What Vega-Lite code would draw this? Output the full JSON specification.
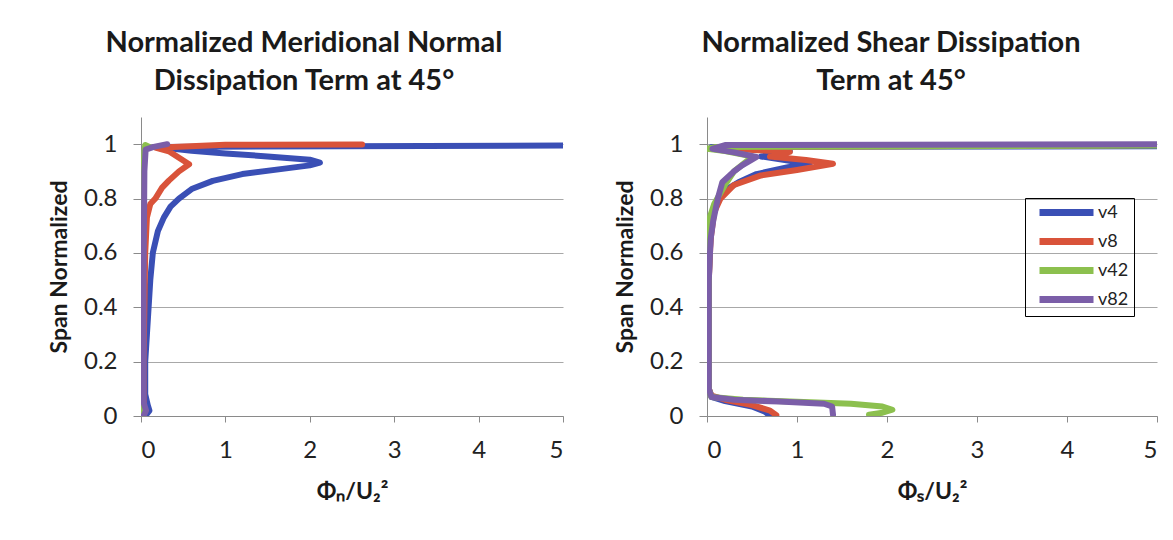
{
  "$schema": "https://vega.github.io/schema/vega-lite/v6.json",
  "background": "white",
  "padding": {"left": 48, "top": 29, "right": 0, "bottom": 0},
  "config": {
    "view": {"stroke": null},
    "font": "Lato",
    "title": {"font": "Lato", "fontSize": 29, "fontWeight": "bold", "color": "#1a1a1a", "lineHeight": 38, "offset": 21},
    "axis": {
      "labelFont": "Lato", "labelFontSize": 24, "labelColor": "#222",
      "titleFont": "Lato", "titleFontSize": 23, "titleFontWeight": "bold", "titleColor": "#1a1a1a",
      "domainColor": "#8a8a8a", "tickColor": "#8a8a8a", "gridColor": "#a8a8a8", "gridWidth": 1
    }
  },
  "datasets": {
    "normal": [
      {"s":"v4","i":0,"x":0.05,"y":0.0},{"s":"v4","i":1,"x":0.1,"y":0.02},{"s":"v4","i":2,"x":0.08,"y":0.04},{"s":"v4","i":3,"x":0.05,"y":0.08},{"s":"v4","i":4,"x":0.05,"y":0.2},{"s":"v4","i":5,"x":0.07,"y":0.3},{"s":"v4","i":6,"x":0.09,"y":0.4},{"s":"v4","i":7,"x":0.11,"y":0.5},{"s":"v4","i":8,"x":0.14,"y":0.6},{"s":"v4","i":9,"x":0.2,"y":0.68},{"s":"v4","i":10,"x":0.27,"y":0.73},{"s":"v4","i":11,"x":0.35,"y":0.77},{"s":"v4","i":12,"x":0.45,"y":0.8},{"s":"v4","i":13,"x":0.6,"y":0.835},{"s":"v4","i":14,"x":0.85,"y":0.865},{"s":"v4","i":15,"x":1.2,"y":0.89},{"s":"v4","i":16,"x":1.7,"y":0.91},{"s":"v4","i":17,"x":2.0,"y":0.922},{"s":"v4","i":18,"x":2.12,"y":0.932},{"s":"v4","i":19,"x":2.0,"y":0.943},{"s":"v4","i":20,"x":1.5,"y":0.955},{"s":"v4","i":21,"x":1.0,"y":0.966},{"s":"v4","i":22,"x":0.6,"y":0.976},{"s":"v4","i":23,"x":0.2,"y":0.99},{"s":"v4","i":24,"x":6,"y":0.996},
      {"s":"v8","i":0,"x":0.03,"y":0.0},{"s":"v8","i":1,"x":0.03,"y":0.2},{"s":"v8","i":2,"x":0.04,"y":0.4},{"s":"v8","i":3,"x":0.05,"y":0.6},{"s":"v8","i":4,"x":0.07,"y":0.73},{"s":"v8","i":5,"x":0.11,"y":0.78},{"s":"v8","i":6,"x":0.17,"y":0.8},{"s":"v8","i":7,"x":0.25,"y":0.84},{"s":"v8","i":8,"x":0.33,"y":0.866},{"s":"v8","i":9,"x":0.45,"y":0.9},{"s":"v8","i":10,"x":0.57,"y":0.926},{"s":"v8","i":11,"x":0.45,"y":0.95},{"s":"v8","i":12,"x":0.33,"y":0.974},{"s":"v8","i":13,"x":0.17,"y":0.987},{"s":"v8","i":14,"x":1.0,"y":0.998},{"s":"v8","i":15,"x":2.62,"y":0.999},
      {"s":"v42","i":0,"x":0.02,"y":0.0},{"s":"v42","i":1,"x":0.02,"y":0.5},{"s":"v42","i":2,"x":0.03,"y":0.9},{"s":"v42","i":3,"x":0.04,"y":0.97},{"s":"v42","i":4,"x":0.05,"y":0.997},{"s":"v42","i":5,"x":0.1,"y":0.99},
      {"s":"v82","i":0,"x":0.03,"y":0.0},{"s":"v82","i":1,"x":0.06,"y":0.02},{"s":"v82","i":2,"x":0.03,"y":0.05},{"s":"v82","i":3,"x":0.03,"y":0.5},{"s":"v82","i":4,"x":0.04,"y":0.9},{"s":"v82","i":5,"x":0.055,"y":0.98},{"s":"v82","i":6,"x":0.15,"y":0.99},{"s":"v82","i":7,"x":0.31,"y":1.0}
    ],
    "shear": [
      {"s":"v4","i":0,"x":0.7,"y":0.0},{"s":"v4","i":1,"x":0.65,"y":0.015},{"s":"v4","i":2,"x":0.5,"y":0.035},{"s":"v4","i":3,"x":0.2,"y":0.055},{"s":"v4","i":4,"x":0.05,"y":0.07},{"s":"v4","i":5,"x":0.02,"y":0.1},{"s":"v4","i":6,"x":0.02,"y":0.3},{"s":"v4","i":7,"x":0.02,"y":0.5},{"s":"v4","i":8,"x":0.03,"y":0.6},{"s":"v4","i":9,"x":0.05,"y":0.7},{"s":"v4","i":10,"x":0.1,"y":0.78},{"s":"v4","i":11,"x":0.2,"y":0.83},{"s":"v4","i":12,"x":0.35,"y":0.86},{"s":"v4","i":13,"x":0.55,"y":0.89},{"s":"v4","i":14,"x":0.9,"y":0.915},{"s":"v4","i":15,"x":1.14,"y":0.926},{"s":"v4","i":16,"x":0.9,"y":0.94},{"s":"v4","i":17,"x":0.6,"y":0.955},{"s":"v4","i":18,"x":0.8,"y":0.965},{"s":"v4","i":19,"x":0.92,"y":0.975},{"s":"v4","i":20,"x":0.3,"y":0.985},{"s":"v4","i":21,"x":0.05,"y":0.99},{"s":"v4","i":22,"x":6,"y":0.993},
      {"s":"v8","i":0,"x":0.77,"y":0.003},{"s":"v8","i":1,"x":0.7,"y":0.02},{"s":"v8","i":2,"x":0.5,"y":0.04},{"s":"v8","i":3,"x":0.2,"y":0.06},{"s":"v8","i":4,"x":0.05,"y":0.075},{"s":"v8","i":5,"x":0.02,"y":0.1},{"s":"v8","i":6,"x":0.02,"y":0.5},{"s":"v8","i":7,"x":0.04,"y":0.65},{"s":"v8","i":8,"x":0.08,"y":0.75},{"s":"v8","i":9,"x":0.15,"y":0.8},{"s":"v8","i":10,"x":0.3,"y":0.85},{"s":"v8","i":11,"x":0.6,"y":0.885},{"s":"v8","i":12,"x":1.0,"y":0.905},{"s":"v8","i":13,"x":1.4,"y":0.928},{"s":"v8","i":14,"x":1.1,"y":0.942},{"s":"v8","i":15,"x":0.7,"y":0.955},{"s":"v8","i":16,"x":0.92,"y":0.972},{"s":"v8","i":17,"x":0.4,"y":0.98},{"s":"v8","i":18,"x":0.1,"y":0.99},{"s":"v8","i":19,"x":6,"y":0.998},
      {"s":"v42","i":0,"x":1.8,"y":0.005},{"s":"v42","i":1,"x":1.95,"y":0.012},{"s":"v42","i":2,"x":2.06,"y":0.023},{"s":"v42","i":3,"x":1.95,"y":0.035},{"s":"v42","i":4,"x":1.6,"y":0.045},{"s":"v42","i":5,"x":1.0,"y":0.052},{"s":"v42","i":6,"x":0.4,"y":0.06},{"s":"v42","i":7,"x":0.05,"y":0.07},{"s":"v42","i":8,"x":0.02,"y":0.1},{"s":"v42","i":9,"x":0.02,"y":0.5},{"s":"v42","i":10,"x":0.03,"y":0.65},{"s":"v42","i":11,"x":0.02,"y":0.72},{"s":"v42","i":12,"x":0.08,"y":0.78},{"s":"v42","i":13,"x":0.2,"y":0.85},{"s":"v42","i":14,"x":0.3,"y":0.9},{"s":"v42","i":15,"x":0.45,"y":0.94},{"s":"v42","i":16,"x":0.5,"y":0.955},{"s":"v42","i":17,"x":0.2,"y":0.975},{"s":"v42","i":18,"x":0.0,"y":0.983},{"s":"v42","i":19,"x":0.1,"y":0.99},{"s":"v42","i":20,"x":6,"y":0.996},
      {"s":"v82","i":0,"x":1.4,"y":0.005},{"s":"v82","i":1,"x":1.39,"y":0.035},{"s":"v82","i":2,"x":1.3,"y":0.045},{"s":"v82","i":3,"x":0.8,"y":0.053},{"s":"v82","i":4,"x":0.3,"y":0.06},{"s":"v82","i":5,"x":0.05,"y":0.07},{"s":"v82","i":6,"x":0.02,"y":0.1},{"s":"v82","i":7,"x":0.02,"y":0.5},{"s":"v82","i":8,"x":0.04,"y":0.65},{"s":"v82","i":9,"x":0.07,"y":0.72},{"s":"v82","i":10,"x":0.12,"y":0.8},{"s":"v82","i":11,"x":0.17,"y":0.86},{"s":"v82","i":12,"x":0.3,"y":0.9},{"s":"v82","i":13,"x":0.39,"y":0.922},{"s":"v82","i":14,"x":0.55,"y":0.953},{"s":"v82","i":15,"x":0.3,"y":0.97},{"s":"v82","i":16,"x":0.06,"y":0.983},{"s":"v82","i":17,"x":0.2,"y":0.997},{"s":"v82","i":18,"x":6,"y":1.0}
    ]
  },
  "resolve": {"legend": {"color": "independent"}},
  "spacing": 50,
  "hconcat": [
    {
      "width": 422, "height": 299,
      "title": {"text": ["Normalized Meridional Normal", "Dissipation Term at 45°"], "dx": -48},
      "data": {"name": "normal"},
      "mark": {"type": "line", "strokeWidth": 6, "clip": true, "strokeCap": "round", "strokeJoin": "round"},
      "encoding": {
        "x": {"field": "x", "type": "quantitative", "scale": {"domain": [0, 5], "nice": false},
              "axis": {"values": [0,1,2,3,4,5], "grid": false, "title": "Φₙ/U₂²", "tickSize": 6, "labelPadding": 16, "titlePadding": 18}},
        "y": {"field": "y", "type": "quantitative", "scale": {"domain": [0, 1.1], "nice": false},
              "axis": {"values": [0,0.2,0.4,0.6,0.8,1], "format": "~g", "title": "Span Normalized", "tickSize": 8, "labelPadding": 16, "titlePadding": 12}},
        "color": {"field": "s", "type": "nominal", "scale": {"domain": ["v4","v8","v42","v82"], "range": ["#3A4FB5","#D9533A","#8CC04E","#7B5EA8"]}, "legend": null},
        "order": {"field": "i", "type": "quantitative"}
      }
    },
    {
      "width": 450, "height": 299,
      "title": {"text": ["Normalized Shear Dissipation", "Term at 45°"], "dx": -41},
      "data": {"name": "shear"},
      "mark": {"type": "line", "strokeWidth": 6, "clip": true, "strokeCap": "round", "strokeJoin": "round"},
      "encoding": {
        "x": {"field": "x", "type": "quantitative", "scale": {"domain": [0, 5], "nice": false},
              "axis": {"values": [0,1,2,3,4,5], "grid": false, "title": "Φₛ/U₂²", "tickSize": 6, "labelPadding": 16, "titlePadding": 18}},
        "y": {"field": "y", "type": "quantitative", "scale": {"domain": [0, 1.1], "nice": false},
              "axis": {"values": [0,0.2,0.4,0.6,0.8,1], "format": "~g", "title": "Span Normalized", "tickSize": 8, "labelPadding": 16, "titlePadding": 12}},
        "color": {"field": "s", "type": "nominal", "scale": {"domain": ["v4","v8","v42","v82"], "range": ["#3A4FB5","#D9533A","#8CC04E","#7B5EA8"]},
                  "legend": {"title": "\u2003", "titleOrient": "right", "titleFontSize": 24, "titlePadding": 4,
                             "orient": "none", "legendX": 318, "legendY": 81, "symbolType": "M0,0H6", "symbolSize": 324, "symbolStrokeWidth": 7,
                             "labelFontSize": 18, "labelFont": "Lato", "labelColor": "#222", "strokeColor": "black", "padding": 2, "rowPadding": 0, "labelOffset": 46}},
        "order": {"field": "i", "type": "quantitative"}
      }
    }
  ]
}
